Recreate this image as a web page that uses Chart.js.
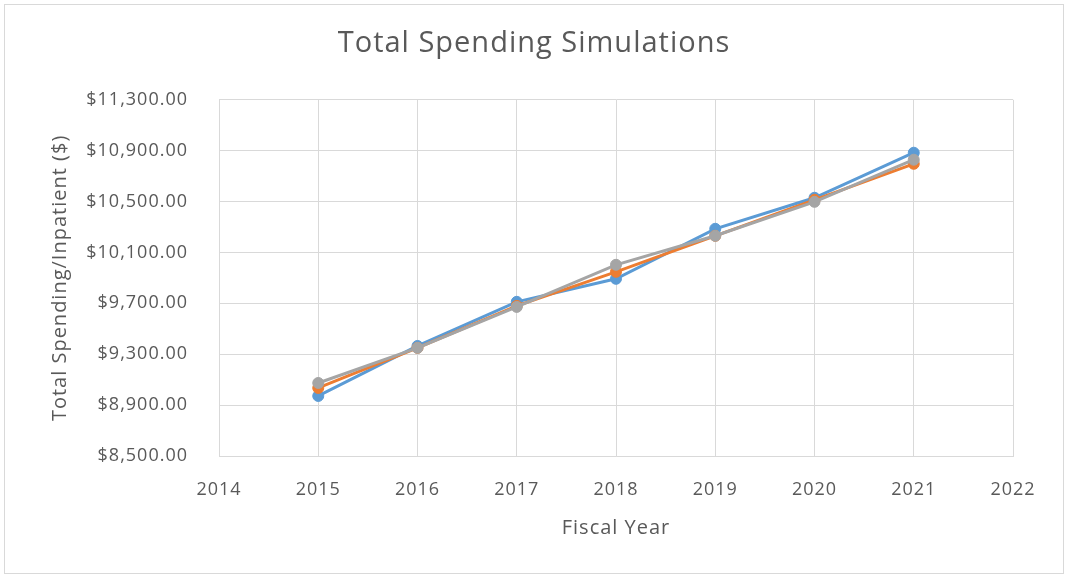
<!DOCTYPE html>
<html>
<head>
<meta charset="utf-8">
<script src="https://cdn.jsdelivr.net/npm/chart.js@4/dist/chart.umd.min.js"></script>
<style>
  html, body { margin: 0; padding: 0; background: #fff; }
  #frame { position: absolute; left: 4px; top: 4px; width: 1058px; height: 568px; border: 1px solid #d9d9d9; }
  #wrap { position: absolute; left: 0; top: 0; width: 1068px; height: 577px; }
</style>
</head>
<body>
<div id="frame"></div>
<div id="wrap"><canvas id="spending_chart" width="1068" height="577"></canvas></div>
<script>
// fiscal years and simulated spending per inpatient
const years = [2015, 2016, 2017, 2018, 2019, 2020, 2021];
const simBlue = [8972, 9365, 9712, 9893, 10286, 10530, 10884];
const simOrange = [9035, 9350, 9680, 9948, 10231, 10514, 10797];
const simGray = [9074, 9350, 9672, 10003, 10231, 10498, 10829];
const yTicks = [8500, 8900, 9300, 9700, 10100, 10500, 10900, 11300];

const FONT = "'Open Sans', Lato, sans-serif";
const TEXT = "#595959";
const GRID = "#d9d9d9";

const toPoints = (vals) => years.map((yr, i) => ({ x: yr, y: vals[i] }));

// lower order is painted last, so gray ends up on top
const makeSet = (label, vals, color, order) => ({
  label: label,
  data: toPoints(vals),
  order: order,
  borderColor: color,
  backgroundColor: color,
  borderWidth: 3,
  pointRadius: 5.5,
  pointBorderWidth: 1,
  tension: 0,
});

const money = (v) =>
  "$" + v.toLocaleString("en-US", { minimumFractionDigits: 2, maximumFractionDigits: 2 });

// a bit of tracking on every label
const spacing = {
  id: "spacing",
  beforeLayout: (chart) => { chart.ctx.letterSpacing = "1px"; },
  beforeDraw: (chart) => { chart.ctx.letterSpacing = "1px"; },
};

const config = {
  type: "line",
  data: {
    datasets: [
      makeSet("Simulation 1", simBlue, "#5b9bd5", 3),
      makeSet("Simulation 2", simOrange, "#ed7d31", 2),
      makeSet("Simulation 3", simGray, "#a5a5a5", 1),
    ],
  },
  options: {
    responsive: false,
    animation: false,
    layout: { padding: { top: 0, left: 0, right: 0, bottom: 30 } },
    plugins: {
      legend: { display: false },
      tooltip: { enabled: false },
      title: {
        display: true,
        text: "Total Spending Simulations",
        color: TEXT,
        font: { family: FONT, size: 29, weight: "normal" },
        padding: { top: 26, bottom: 39 },
      },
    },
    scales: {
      x: {
        type: "linear",
        min: 2014,
        max: 2022,
        afterFit: (s) => { s.height = 91; },
        ticks: {
          stepSize: 1,
          color: TEXT,
          padding: 23,
          font: { family: FONT, size: 18 },
          callback: (v) => String(v),
        },
        grid: { color: GRID, lineWidth: 1, drawTicks: false },
        border: { color: GRID },
        title: {
          display: true,
          text: "Fiscal Year",
          color: TEXT,
          font: { family: FONT, size: 20 },
          padding: { top: 0, bottom: 7 },
        },
      },
      y: {
        min: yTicks[0],
        max: yTicks[yTicks.length - 1],
        afterFit: (s) => { s.width = 219; },
        afterBuildTicks: (s) => { s.ticks = yTicks.map((v) => ({ value: v })); },
        ticks: {
          color: TEXT,
          padding: 31,
          font: { family: FONT, size: 18 },
          callback: (v) => money(v),
        },
        grid: { color: GRID, lineWidth: 1, drawTicks: false },
        border: { color: GRID },
        title: {
          display: true,
          text: "Total Spending/Inpatient ($)",
          color: TEXT,
          font: { family: FONT, size: 20 },
          padding: { top: 48, bottom: 0 },
        },
      },
      // empty strip on the right so the plot stops short of the frame
      pad: {
        position: "right",
        display: true,
        afterFit: (s) => { s.width = 55; },
        ticks: { display: false },
        grid: { display: false, drawTicks: false },
        border: { display: false },
      },
    },
  },
  plugins: [spacing],
};

const myChart = new Chart(document.getElementById("spending_chart"), config);
</script>
</body>
</html>
